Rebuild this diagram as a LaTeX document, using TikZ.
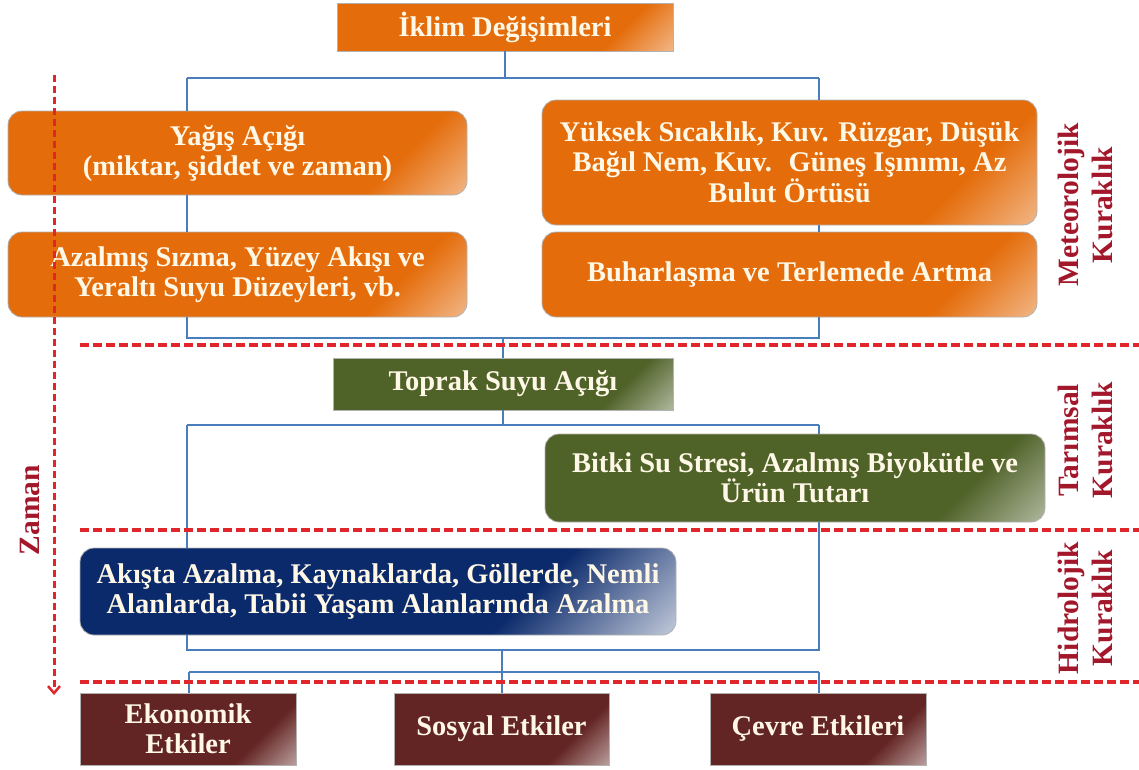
\documentclass[tikz,border=0pt]{standalone}
\usepackage{fontspec}
\setmainfont{Liberation Serif}
\usetikzlibrary{arrows.meta}
\definecolor{cOr}{HTML}{E46C0A}
\definecolor{cGr}{HTML}{4F6228}
\definecolor{cNv}{HTML}{0B2A6B}
\definecolor{cDr}{HTML}{632523}
\definecolor{cBl}{HTML}{4A7EBB}
\definecolor{cRd}{HTML}{E0262B}
\definecolor{cLab}{HTML}{A3172B}
\definecolor{cTx}{HTML}{FFF8E6}
\colorlet{cOrL}{white!60!cOr}
\colorlet{cGrL}{white!65!cGr}
\colorlet{cNvL}{white!85!cNv}
\colorlet{cDrL}{white!65!cDr}
\pgfdeclarehorizontalshading{glossOr}{100bp}{color(0bp)=(cOr); color(72bp)=(cOr); color(88bp)=(cOrL); color(100bp)=(cOrL)}
\pgfdeclarehorizontalshading{glossGr}{100bp}{color(0bp)=(cGr); color(72bp)=(cGr); color(88bp)=(cGrL); color(100bp)=(cGrL)}
\pgfdeclarehorizontalshading{glossNv}{100bp}{color(0bp)=(cNv); color(66bp)=(cNv); color(88bp)=(cNvL); color(100bp)=(cNvL)}
\pgfdeclarehorizontalshading{glossDr}{100bp}{color(0bp)=(cDr); color(70bp)=(cDr); color(88bp)=(cDrL); color(100bp)=(cDrL)}
\tikzset{
  box/.style={draw=black!30, line width=0.8pt, shade, shading angle=-45,
    text=cTx, font=\bfseries\fontsize{28.5}{30}\selectfont, align=center, inner sep=0pt},
  orbox/.style={box, shading=glossOr},
  grbox/.style={box, shading=glossGr},
  nvbox/.style={box, shading=glossNv},
  drbox/.style={box, shading=glossDr},
  rbox/.style={rounded corners=14pt},
  conn/.style={draw=cBl, line width=2pt},
  rdash/.style={draw=cRd, line width=3.3pt, dash pattern=on 9pt off 4pt},
  rdashv/.style={draw=cRd, line width=3pt, dash pattern=on 7pt off 4pt},
  lab/.style={text=cLab, font=\bfseries\fontsize{29.5}{34}\selectfont, align=center, rotate=90, inner sep=0pt}
}
\begin{document}
\begin{tikzpicture}[x=1pt,y=-1pt]
\useasboundingbox (0,0) rectangle (1139,769);
% boxes
\node[orbox, minimum width=336pt, minimum height=48pt] (top) at (505,27) {İklim Değişimleri};
\node[orbox, rbox, minimum width=459pt, minimum height=84pt] (Y) at (237.5,153) {Yağış Açığı\\(miktar, şiddet ve zaman)};
\node[orbox, rbox, minimum width=459pt, minimum height=85pt] (Az) at (237.5,274.5) {Azalmış Sızma, Yüzey Akışı ve\\Yeraltı Suyu Düzeyleri, vb.};
\node[orbox, rbox, minimum width=495pt, minimum height=125pt] (Yu) at (789.5,162.5) {Yüksek Sıcaklık, Kuv. Rüzgar, Düşük\\Bağıl Nem, Kuv.~ Güneş Işınımı, Az\\Bulut Örtüsü};
\node[orbox, rbox, minimum width=495pt, minimum height=85pt] (Bu) at (789.5,274.5) {Buharlaşma ve Terlemede Artma};
\node[grbox, minimum width=340pt, minimum height=52pt] (T) at (503,384) {Toprak Suyu Açığı};
\node[grbox, rbox, minimum width=500pt, minimum height=88pt] (Bi) at (795,478) {Bitki Su Stresi, Azalmış Biyokütle ve\\Ürün Tutarı};
\node[nvbox, rbox, minimum width=596pt, minimum height=87pt] (Ak) at (378,591.5) {Akışta Azalma, Kaynaklarda, Göllerde, Nemli\\Alanlarda, Tabii Yaşam Alanlarında Azalma};
\node[drbox, minimum width=216pt, minimum height=72pt] (E) at (188,729) {Ekonomik\\Etkiler};
\node[drbox, minimum width=215pt, minimum height=72pt] (S) at (501.5,729) {Sosyal Etkiler};
\node[drbox, minimum width=216pt, minimum height=72pt] (C) at (818,729) {Çevre Etkileri};
% connectors
\coordinate (aL) at (187,78);
\coordinate (aR) at (819,78);
\coordinate (bL) at (187,338);
\coordinate (bR) at (819,338);
\coordinate (cL) at (187,425);
\coordinate (cR) at (819,425);
\coordinate (dL) at (187,650);
\coordinate (dR) at (819,650);
\coordinate (dM) at (502,650);
\coordinate (eL) at (189,672);
\coordinate (eM) at (502,672);
\coordinate (eR) at (819,672);
\draw[conn] (top.south) -- (top.south |- aL);
\draw[conn] (aL) -- (aR);
\draw[conn] (aL) -- (aL |- Y.north);
\draw[conn] (aR) -- (aR |- Yu.north);
\draw[conn] (aL |- Y.south) -- (aL |- Az.north);
\draw[conn] (aR |- Yu.south) -- (aR |- Bu.north);
\draw[conn] (aL |- Az.south) -- (bL) -- (bR) -- (aR |- Bu.south);
\draw[conn] (T.north |- bL) -- (T.north);
\draw[conn] (T.south) -- (T.south |- cL);
\draw[conn] (cL) -- (cR);
\draw[conn] (cR) -- (cR |- Bi.north);
\draw[conn] (cL) -- (cL |- Ak.north);
\draw[conn] (cL |- Ak.south) -- (dL) -- (dR) -- (cR |- Bi.south);
\draw[conn] (dM) -- (eM);
\draw[conn] (eL) -- (eR);
\draw[conn] (eL) -- (eL |- E.north);
\draw[conn] (eM) -- (eM |- S.north);
\draw[conn] (eR) -- (eR |- C.north);
% red dashed separators
\coordinate (s1a) at (80,345); \coordinate (s1b) at (1139,345);
\coordinate (s2a) at (80,530); \coordinate (s2b) at (1139,530);
\coordinate (s3a) at (80,682); \coordinate (s3b) at (1139,682);
\draw[rdash] (s1a) -- (s1b);
\draw[rdash] (s2a) -- (s2b);
\draw[rdash] (s3a) -- (s3b);
\coordinate (za) at (54,75); \coordinate (zb) at (54,695);
\draw[rdashv, -{Straight Barb[length=7pt,width=12pt,line width=2.5pt]}] (za) -- (zb);
% labels
\node[lab] (zaman) at (30,510) {Zaman};
\node[lab] (met) at (1085,205) {Meteorolojik\\Kuraklık};
\node[lab] (tar) at (1085,440) {Tarımsal\\Kuraklık};
\node[lab] (hid) at (1085,608) {Hidrolojik\\Kuraklık};
\end{tikzpicture}
\end{document}
